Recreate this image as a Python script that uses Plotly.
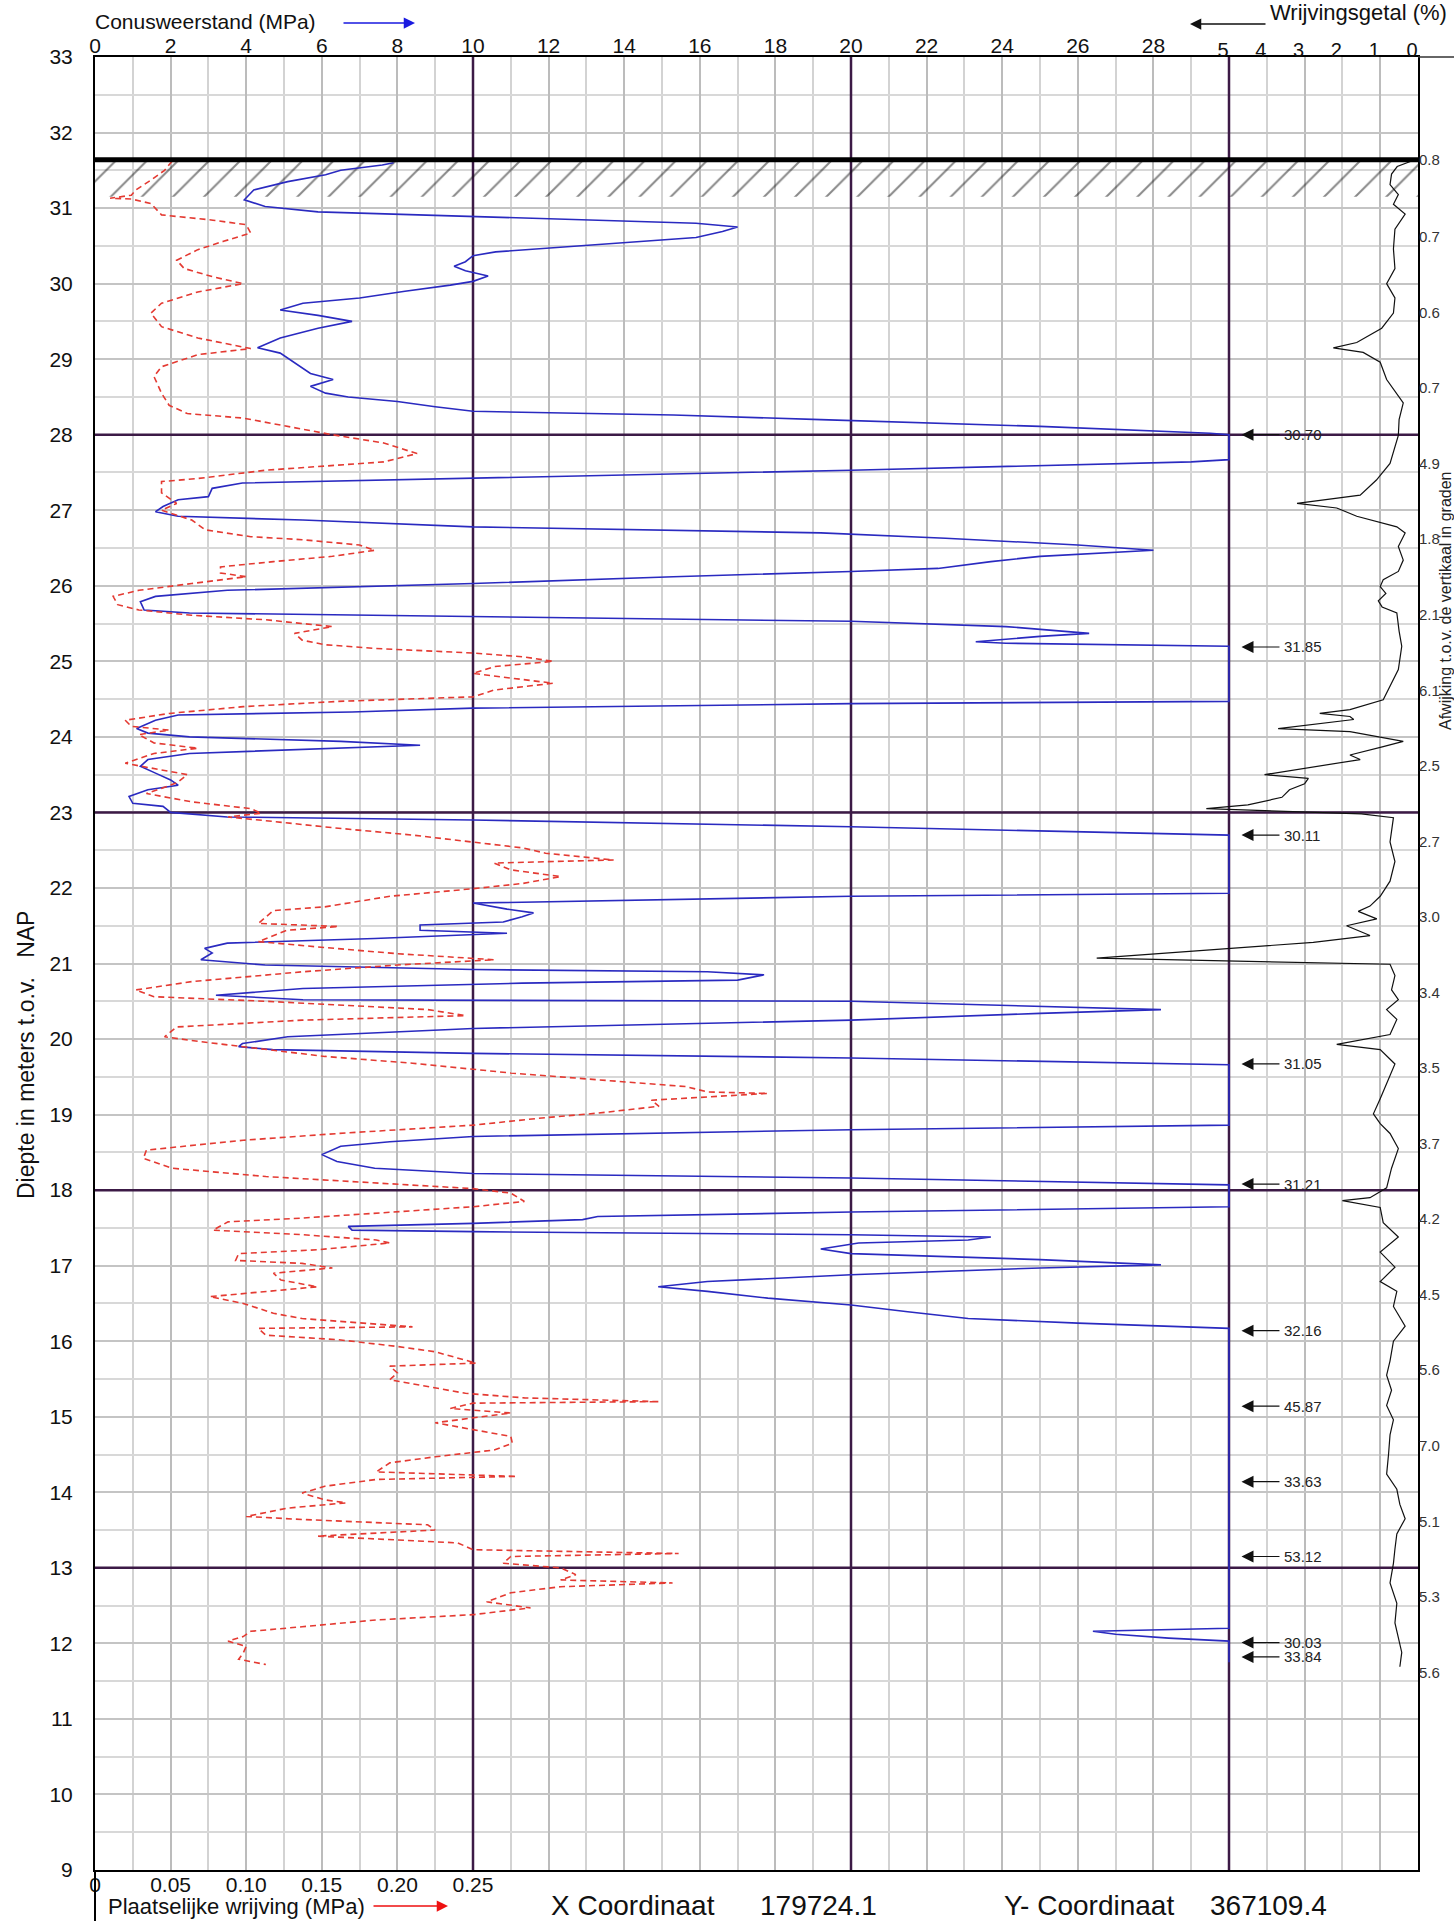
import plotly.graph_objects as go

# ---------------------------------------------------------------- data
GROUND_LEVEL = 31.64      # m NAP, top of the sounding
HATCH_BOTTOM = 31.15      # bottom of the hatched (pre-excavated) layer
X_MAX = 35.0              # main scale 0..35 (30..35 used by Wrijvingsgetal)
FS_PER_UNIT = 40.0        # 0.25 MPa friction <-> 10 MPa cone resistance
DEPTH_MIN, DEPTH_MAX = 9, 33

# Conusweerstand qc (MPa), clipped at 30 MPa
qc_depth = [
    31.60, 31.57, 31.50, 31.44, 31.35, 31.24, 31.11, 31.02, 30.95, 30.91,
    30.89, 30.84, 30.80, 30.75, 30.69, 30.61, 30.56, 30.49, 30.42, 30.37,
    30.29, 30.23, 30.17, 30.10, 30.03, 29.98, 29.90, 29.81, 29.74, 29.65,
    29.58, 29.50, 29.41, 29.28, 29.15, 29.08, 28.95, 28.81, 28.73, 28.64,
    28.55, 28.50, 28.44, 28.37, 28.31, 28.26, 28.20, 28.11, 28.02, 28.00,
    27.67, 27.64, 27.53, 27.42, 27.36, 27.29, 27.18, 27.14, 27.05, 26.98,
    26.92, 26.87, 26.78, 26.70, 26.63, 26.54, 26.47, 26.39, 26.32, 26.23,
    26.19, 26.12, 26.03, 25.94, 25.86, 25.79, 25.68, 25.64, 25.59, 25.53,
    25.46, 25.37, 25.33, 25.26, 25.24, 25.20, 24.47, 24.44, 24.38, 24.33,
    24.29, 24.22, 24.11, 24.05, 24.00, 23.94, 23.89, 23.85, 23.78, 23.70,
    23.61, 23.52, 23.43, 23.36, 23.30, 23.21, 23.12, 23.08, 23.00, 22.94,
    22.90, 22.81, 22.70, 21.93, 21.89, 21.80, 21.72, 21.67, 21.62, 21.55,
    21.51, 21.44, 21.40, 21.33, 21.27, 21.20, 21.14, 21.05, 20.98, 20.92,
    20.89, 20.85, 20.78, 20.74, 20.67, 20.58, 20.52, 20.50, 20.43, 20.39,
    20.34, 20.25, 20.14, 20.03, 19.94, 19.90, 19.86, 19.81, 19.75, 19.66,
    18.86, 18.80, 18.71, 18.64, 18.58, 18.47, 18.38, 18.29, 18.22, 18.16,
    18.07, 17.78, 17.71, 17.65, 17.61, 17.56, 17.52, 17.47, 17.45, 17.41,
    17.38, 17.34, 17.30, 17.22, 17.16, 17.08, 17.01, 16.97, 16.88, 16.79,
    16.72, 16.66, 16.57, 16.48, 16.39, 16.30, 16.24, 16.17, 12.20, 12.16,
    12.12, 12.07, 12.03, 11.75,
]
qc_mpa = [
    7.9, 7.6, 6.5, 6.1, 5.1, 4.2, 3.95, 4.5, 5.9, 8.4,
    10.0, 13.3, 15.9, 17.0, 16.6, 15.9, 14.5, 12.3, 10.6, 10.0,
    9.8, 9.5, 9.8, 10.4, 10.0, 9.4, 8.2, 7.0, 5.5, 4.9,
    5.9, 6.8, 5.9, 4.9, 4.3, 4.9, 5.3, 5.7, 6.3, 5.7,
    6.1, 6.7, 8.0, 9.0, 10.0, 15.3, 19.2, 25.0, 29.5, 30.0,
    30.0, 29.0, 20.0, 10.0, 3.9, 3.1, 3.0, 2.2, 1.8, 1.6,
    2.2, 5.5, 10.0, 19.2, 22.5, 26.0, 28.0, 25.0, 23.7, 22.3,
    20.0, 15.3, 10.0, 3.5, 1.6, 1.2, 1.3, 2.5, 10.0, 20.0,
    24.1, 26.3, 25.0, 23.3, 24.1, 30.0, 30.0, 20.0, 10.0, 6.8,
    2.2, 1.6, 1.1, 1.4, 2.5, 6.5, 8.6, 6.5, 2.5, 1.4,
    1.2, 1.6, 2.0, 2.2, 1.4, 0.9, 1.0, 1.8, 2.0, 3.5,
    10.0, 20.0, 30.0, 30.0, 20.0, 10.0, 10.9, 11.6, 11.3, 10.8,
    8.6, 8.6, 10.9, 7.4, 3.5, 2.9, 3.1, 2.8, 4.5, 10.0,
    16.2, 17.7, 17.0, 11.3, 5.5, 3.2, 5.5, 20.0, 25.0, 28.2,
    25.0, 20.0, 10.0, 5.1, 3.9, 3.8, 4.7, 10.0, 20.0, 30.0,
    30.0, 20.0, 10.0, 7.8, 6.5, 6.0, 6.4, 7.4, 10.0, 20.0,
    30.0, 30.0, 20.0, 13.3, 12.9, 10.0, 6.7, 6.8, 10.0, 20.0,
    23.7, 23.1, 20.2, 19.2, 20.0, 25.0, 28.2, 25.0, 20.0, 16.2,
    14.9, 16.2, 17.8, 20.0, 21.5, 23.1, 26.0, 30.0, 30.0, 26.4,
    27.0, 28.4, 30.0, 30.0,
]

# Plaatselijke wrijving fs (MPa)
fs_depth = [
    31.62, 31.50, 31.37, 31.24, 31.17, 31.13, 31.12, 31.06, 30.91, 30.84,
    30.78, 30.67, 30.56, 30.45, 30.31, 30.20, 30.09, 30.00, 29.89, 29.74,
    29.61, 29.43, 29.28, 29.14, 29.06, 28.90, 28.77, 28.55, 28.39, 28.28,
    28.22, 28.11, 28.00, 27.89, 27.75, 27.64, 27.53, 27.42, 27.38, 27.23,
    27.09, 27.00, 26.87, 26.74, 26.65, 26.61, 26.54, 26.47, 26.39, 26.32,
    26.25, 26.17, 26.12, 26.03, 25.94, 25.86, 25.75, 25.68, 25.61, 25.55,
    25.46, 25.37, 25.28, 25.22, 25.17, 25.11, 25.06, 25.00, 24.93, 24.84,
    24.78, 24.71, 24.62, 24.53, 24.47, 24.40, 24.31, 24.22, 24.14, 24.09,
    24.03, 23.92, 23.85, 23.78, 23.65, 23.58, 23.50, 23.39, 23.25, 23.14,
    23.05, 22.99, 22.94, 22.88, 22.79, 22.70, 22.61, 22.53, 22.46, 22.37,
    22.33, 22.24, 22.15, 22.06, 21.99, 21.89, 21.75, 21.70, 21.53, 21.49,
    21.44, 21.29, 21.22, 21.13, 21.05, 20.98, 20.89, 20.76, 20.65, 20.56,
    20.50, 20.43, 20.39, 20.31, 20.25, 20.16, 20.03, 19.97, 19.90, 19.77,
    19.68, 19.55, 19.46, 19.37, 19.30, 19.28, 19.19, 19.11, 19.02, 18.95,
    18.86, 18.75, 18.66, 18.53, 18.42, 18.29, 18.18, 18.09, 18.02, 17.96,
    17.85, 17.78, 17.71, 17.63, 17.58, 17.47, 17.41, 17.34, 17.30, 17.21,
    17.16, 17.07, 17.03, 16.97, 16.90, 16.81, 16.72, 16.66, 16.59, 16.50,
    16.37, 16.30, 16.19, 16.17, 16.08, 16.02, 15.93, 15.86, 15.75, 15.71,
    15.67, 15.58, 15.49, 15.40, 15.31, 15.25, 15.20, 15.18, 15.11, 15.05,
    14.92, 14.83, 14.74, 14.65, 14.56, 14.47, 14.39, 14.27, 14.21, 14.17,
    14.08, 13.99, 13.90, 13.86, 13.79, 13.68, 13.64, 13.57, 13.50, 13.42,
    13.37, 13.33, 13.24, 13.19, 13.15, 13.06, 13.00, 12.91, 12.84, 12.80,
    12.75, 12.67, 12.55, 12.47, 12.38, 12.31, 12.22, 12.16, 12.09, 12.03,
    11.96, 11.87, 11.79, 11.72,
]
fs_mpa = [
    0.051, 0.046, 0.037, 0.027, 0.024, 0.010, 0.024, 0.037, 0.044, 0.078,
    0.100, 0.103, 0.085, 0.068, 0.054, 0.059, 0.078, 0.098, 0.068, 0.044,
    0.037, 0.044, 0.068, 0.103, 0.068, 0.044, 0.039, 0.044, 0.049, 0.061,
    0.098, 0.127, 0.157, 0.191, 0.213, 0.191, 0.113, 0.068, 0.044, 0.044,
    0.054, 0.044, 0.064, 0.073, 0.103, 0.137, 0.175, 0.185, 0.157, 0.118,
    0.083, 0.083, 0.100, 0.064, 0.029, 0.012, 0.015, 0.029, 0.064, 0.113,
    0.157, 0.132, 0.137, 0.152, 0.186, 0.250, 0.283, 0.303, 0.264, 0.250,
    0.275, 0.303, 0.264, 0.250, 0.161, 0.098, 0.049, 0.020, 0.024, 0.049,
    0.029, 0.039, 0.068, 0.039, 0.020, 0.039, 0.061, 0.054, 0.034, 0.064,
    0.103, 0.110, 0.088, 0.118, 0.161, 0.210, 0.250, 0.283, 0.298, 0.343,
    0.264, 0.275, 0.308, 0.283, 0.250, 0.195, 0.152, 0.118, 0.108, 0.161,
    0.127, 0.108, 0.147, 0.200, 0.264, 0.200, 0.137, 0.064, 0.027, 0.039,
    0.113, 0.186, 0.220, 0.245, 0.137, 0.054, 0.046, 0.068, 0.098, 0.152,
    0.210, 0.275, 0.333, 0.391, 0.405, 0.445, 0.368, 0.373, 0.333, 0.293,
    0.250, 0.161, 0.098, 0.034, 0.032, 0.051, 0.113, 0.186, 0.250, 0.275,
    0.284, 0.250, 0.200, 0.137, 0.088, 0.078, 0.137, 0.186, 0.195, 0.147,
    0.095, 0.093, 0.137, 0.157, 0.118, 0.123, 0.147, 0.113, 0.076, 0.098,
    0.118, 0.137, 0.210, 0.108, 0.113, 0.161, 0.200, 0.225, 0.245, 0.252,
    0.195, 0.200, 0.195, 0.220, 0.245, 0.284, 0.373, 0.250, 0.235, 0.275,
    0.225, 0.250, 0.275, 0.276, 0.264, 0.225, 0.195, 0.186, 0.279, 0.186,
    0.152, 0.137, 0.152, 0.166, 0.127, 0.100, 0.137, 0.220, 0.225, 0.147,
    0.195, 0.240, 0.250, 0.386, 0.275, 0.270, 0.308, 0.318, 0.308, 0.382,
    0.308, 0.275, 0.259, 0.288, 0.250, 0.186, 0.137, 0.103, 0.098, 0.088,
    0.100, 0.098, 0.095, 0.113,
]

# Wrijvingsgetal Rf (%)
rf_depth = [
    31.64, 31.55, 31.45, 31.31, 31.18, 31.05, 30.92, 30.72, 30.46, 30.20,
    30.00, 29.81, 29.61, 29.41, 29.22, 29.15, 29.09, 28.96, 28.73, 28.60,
    28.42, 28.20, 27.99, 27.62, 27.40, 27.20, 27.09, 27.03, 26.92, 26.78,
    26.70, 26.52, 26.34, 26.19, 26.08, 25.99, 25.90, 25.80, 25.72, 25.64,
    25.40, 25.20, 24.89, 24.49, 24.36, 24.31, 24.27, 24.23, 24.11, 24.07,
    23.94, 23.87, 23.76, 23.70, 23.61, 23.50, 23.45, 23.38, 23.30, 23.20,
    23.10, 23.05, 22.98, 22.93, 22.61, 22.35, 22.09, 21.89, 21.76, 21.69,
    21.59, 21.50, 21.37, 21.28, 21.07, 20.99, 20.84, 20.65, 20.52, 20.39,
    20.26, 20.06, 19.93, 19.86, 19.67, 19.40, 19.21, 19.01, 18.88, 18.75,
    18.55, 18.29, 18.03, 17.90, 17.86, 17.77, 17.57, 17.38, 17.18, 16.98,
    16.79, 16.66, 16.46, 16.20, 16.00, 15.74, 15.55, 15.35, 15.15, 14.96,
    14.76, 14.50, 14.24, 14.04, 13.84, 13.65, 13.45, 13.25, 13.06, 12.80,
    12.53, 12.27, 12.08, 11.88, 11.69,
]
rf_pct = [
    0.08, 0.55, 0.70, 0.74, 0.52, 0.65, 0.34, 0.61, 0.65, 0.61,
    0.83, 0.61, 0.65, 0.96, 1.62, 2.24, 1.45, 1.00, 0.83, 0.65,
    0.39, 0.50, 0.52, 0.74, 1.10, 1.53, 3.20, 2.15, 1.62, 0.56,
    0.34, 0.52, 0.39, 0.52, 0.92, 1.00, 0.85, 1.05, 0.95, 0.56,
    0.50, 0.43, 0.52, 0.92, 1.80, 2.60, 1.80, 1.70, 3.70, 1.80,
    0.39, 0.92, 1.80, 1.53, 2.68, 4.06, 2.90, 3.00, 3.40, 3.60,
    4.50, 5.60, 1.50, 0.65, 0.74, 0.61, 0.74, 1.00, 1.27, 1.58,
    1.09, 1.89, 1.27, 2.77, 8.50, 0.74, 0.61, 0.70, 0.52, 0.83,
    0.56, 0.74, 2.15, 1.00, 0.61, 0.83, 1.00, 1.18, 1.00, 0.74,
    0.52, 0.70, 0.83, 1.27, 2.00, 1.00, 0.92, 0.52, 1.00, 0.61,
    1.00, 0.56, 0.65, 0.34, 0.65, 0.74, 0.83, 0.70, 0.83, 0.65,
    0.74, 0.78, 0.83, 0.56, 0.48, 0.34, 0.56, 0.61, 0.65, 0.74,
    0.56, 0.61, 0.52, 0.43, 0.48,
]

# qc values above 30 MPa (printed next to the clipped curve)
exceed_depth = [28.00, 25.19, 22.70, 19.67, 18.08, 16.14, 15.14, 14.14, 13.15, 12.01, 11.82]
exceed_label = ["30.70", "31.85", "30.11", "31.05", "31.21", "32.16",
                "45.87", "33.63", "53.12", "30.03", "33.84"]

# inclination (Afwijking t.o.v. de vertikaal, graden)
incl_depth = [31.64, 30.62, 29.62, 28.62, 27.62, 26.62, 25.62, 24.62, 23.62, 22.62,
              21.62, 20.62, 19.62, 18.62, 17.62, 16.62, 15.62, 14.62, 13.62, 12.62, 11.62]
incl_label = ["0.8", "0.7", "0.6", "0.7", "4.9", "1.8", "2.1", "6.1", "2.5", "2.7",
              "3.0", "3.4", "3.5", "3.7", "4.2", "4.5", "5.6", "7.0", "5.1", "5.3", "5.6"]

cone_ticks = list(range(0, 35, 2))
cone_labels = [str(v) if v <= 28 else "" for v in cone_ticks]
fs_ticks = [0, 0.05, 0.10, 0.15, 0.20, 0.25]
fs_labels = ["0", "0.05", "0.10", "0.15", "0.20", "0.25"]
rf_ticks = [5, 4, 3, 2, 1, 0]
ref_x = [10, 20, 30]
ref_depth = [28, 23, 18, 13]

X_COORD = "179724.1"
Y_COORD = "367109.4"

# ---------------------------------------------------------------- geometry
W, H = 1454, 1921
ML, MR, MT, MB = 95, 36, 57, 51
PW, PH = W - ML - MR, H - MT - MB


def pxx(px):
    return (px - ML) / PW


def pxy(py):
    return (H - MB - py) / PH


FONT = "Liberation Sans, Arial, Helvetica, sans-serif"
PURPLE = "#3c1a46"
BLUE = "#2a2ac0"
RED = "#e43a32"

fig = go.Figure()

# hatched layer below ground level
fig.add_trace(go.Scatter(
    x=[0, X_MAX, X_MAX, 0, 0],
    y=[GROUND_LEVEL, GROUND_LEVEL, HATCH_BOTTOM, HATCH_BOTTOM, GROUND_LEVEL],
    mode="none", fill="toself", fillcolor="rgba(0,0,0,0)",
    fillpattern=dict(shape="/", size=22, solidity=0.09, fgcolor="#111111",
                     bgcolor="rgba(0,0,0,0)"),
    hoverinfo="skip", showlegend=False, xaxis="x", yaxis="y"))

fig.add_trace(go.Scatter(
    x=rf_pct, y=rf_depth, mode="lines", xaxis="x3", yaxis="y",
    line=dict(color="#111111", width=1.2), hoverinfo="skip", showlegend=False))

fig.add_trace(go.Scatter(
    x=fs_mpa, y=fs_depth, mode="lines", xaxis="x2", yaxis="y",
    line=dict(color=RED, width=1.6, dash="6px,4px"), hoverinfo="skip",
    showlegend=False))

fig.add_trace(go.Scatter(
    x=qc_mpa, y=qc_depth, mode="lines", xaxis="x", yaxis="y",
    line=dict(color=BLUE, width=1.6), hoverinfo="skip", showlegend=False))

shapes = []
for xv in ref_x:
    shapes.append(dict(type="line", xref="x", yref="y", x0=xv, x1=xv,
                       y0=DEPTH_MIN, y1=DEPTH_MAX, layer="between",
                       line=dict(color=PURPLE, width=2.5)))
for dv in ref_depth:
    shapes.append(dict(type="line", xref="x", yref="y", x0=0, x1=X_MAX,
                       y0=dv, y1=dv, layer="between",
                       line=dict(color=PURPLE, width=2.5)))
shapes.append(dict(type="line", xref="x", yref="y", x0=0, x1=X_MAX,
                   y0=GROUND_LEVEL, y1=GROUND_LEVEL, layer="above",
                   line=dict(color="black", width=5)))
# frame extensions
shapes.append(dict(type="line", xref="paper", yref="paper", x0=0, x1=0,
                   y0=0, y1=pxy(H), line=dict(color="black", width=2)))
shapes.append(dict(type="line", xref="paper", yref="paper", x0=1, x1=pxx(W),
                   y0=1, y1=1, line=dict(color="#333333", width=1.5)))

ann = []
for d, t in zip(exceed_depth, exceed_label):
    ann.append(dict(xref="x", yref="y", x=30.33, y=d, text=t, showarrow=True,
                    axref="pixel", ayref="pixel", ax=38, ay=0, xanchor="left",
                    borderpad=4, arrowhead=2, arrowsize=2.0, arrowwidth=1.2,
                    arrowcolor="#111111", standoff=0,
                    font=dict(family=FONT, size=15, color="#222222")))
for d, t in zip(incl_depth, incl_label):
    ann.append(dict(xref="paper", yref="y", x=1, y=d, text=t, showarrow=False,
                    xanchor="left", yanchor="middle", xshift=-1,
                    font=dict(family=FONT, size=15, color="#333333")))

# header / footer texts
ann += [
    dict(xref="paper", yref="paper", x=pxx(93), y=pxy(21), text="Conusweerstand (MPa)",
         showarrow=False, xanchor="left", yanchor="middle",
         font=dict(family=FONT, size=21, color="#111111")),
    dict(xref="paper", yref="paper", x=pxx(415), y=pxy(23), text="", showarrow=True,
         axref="pixel", ayref="pixel", ax=-73, ay=0, arrowhead=2, arrowsize=1.5,
         arrowwidth=1.5, arrowcolor="#1a1ae0"),
    dict(xref="paper", yref="paper", x=pxx(1268), y=pxy(13), text="Wrijvingsgetal (%)",
         showarrow=False, xanchor="left", yanchor="middle",
         font=dict(family=FONT, size=22, color="#111111")),
    dict(xref="paper", yref="paper", x=pxx(1190), y=pxy(24), text="", showarrow=True,
         axref="pixel", ayref="pixel", ax=77, ay=0, arrowhead=2, arrowsize=1.5,
         arrowwidth=1.5, arrowcolor="#111111"),
    dict(xref="paper", yref="paper", x=pxx(106), y=pxy(1906),
         text="Plaatselijke wrijving (MPa)", showarrow=False, xanchor="left",
         yanchor="middle", font=dict(family=FONT, size=22, color="#111111")),
    dict(xref="paper", yref="paper", x=pxx(448), y=pxy(1906), text="", showarrow=True,
         axref="pixel", ayref="pixel", ax=-76, ay=0, arrowhead=2, arrowsize=1.5,
         arrowwidth=1.5, arrowcolor="#ee1111"),
    dict(xref="paper", yref="paper", x=pxx(549), y=pxy(1905), text="X Coordinaat",
         showarrow=False, xanchor="left", yanchor="middle",
         font=dict(family=FONT, size=28, color="#111111")),
    dict(xref="paper", yref="paper", x=pxx(758), y=pxy(1905), text=X_COORD,
         showarrow=False, xanchor="left", yanchor="middle",
         font=dict(family=FONT, size=28, color="#111111")),
    dict(xref="paper", yref="paper", x=pxx(1002), y=pxy(1905), text="Y- Coordinaat",
         showarrow=False, xanchor="left", yanchor="middle",
         font=dict(family=FONT, size=28, color="#111111")),
    dict(xref="paper", yref="paper", x=pxx(1208), y=pxy(1905), text=Y_COORD,
         showarrow=False, xanchor="left", yanchor="middle",
         font=dict(family=FONT, size=28, color="#111111")),
    dict(xref="paper", yref="paper", x=pxx(26), y=pxy(1055),
         text="Diepte in meters t.o.v.\u00a0\u00a0\u00a0NAP", showarrow=False,
         textangle=-90, xanchor="center", yanchor="middle",
         font=dict(family=FONT, size=23, color="#111111")),
    dict(xref="paper", yref="paper", x=pxx(1445), y=pxy(601),
         text="Afwijking t.o.v. de vertikaal in graden", showarrow=False,
         textangle=-90, xanchor="center", yanchor="middle",
         font=dict(family=FONT, size=16, color="#222222")),
]

fig.update_layout(
    width=W, height=H, autosize=False,
    margin=dict(l=ML, r=MR, t=MT, b=MB, pad=0),
    paper_bgcolor="white", plot_bgcolor="white",
    font=dict(family=FONT, color="#111111"),
    showlegend=False, hovermode=False,
    shapes=shapes, annotations=ann,
    xaxis=dict(
        domain=[0, 1], range=[0, X_MAX], side="top", anchor="y",
        tickmode="array", tickvals=cone_ticks, ticktext=cone_labels,
        ticks="", ticklabelstandoff=-6,
        tickfont=dict(family=FONT, size=21, color="#111111"),
        showgrid=True, gridcolor="#bcbcbc", gridwidth=2,
        minor=dict(dtick=1, tick0=0, showgrid=True, gridcolor="#d3d3d3",
                   gridwidth=1.5, ticks=""),
        showline=True, linecolor="black", linewidth=2, mirror=True,
        zeroline=False, fixedrange=True),
    xaxis2=dict(
        overlaying="x", anchor="y", side="bottom",
        range=[0, X_MAX / FS_PER_UNIT], tickmode="array",
        tickvals=fs_ticks, ticktext=fs_labels, ticks="",
        tickfont=dict(family=FONT, size=21, color="#111111"),
        showgrid=False, zeroline=False, showline=False, fixedrange=True),
    xaxis3=dict(
        overlaying="x", anchor="y", side="top", range=[X_MAX, 0],
        tickmode="array", tickvals=rf_ticks, ticktext=[str(v) for v in rf_ticks],
        ticks="", ticklabelshift=6, ticklabelstandoff=-5,
        tickfont=dict(family=FONT, size=20, color="#111111"),
        showgrid=False, zeroline=False, showline=False, fixedrange=True),
    yaxis=dict(
        domain=[0, 1], range=[DEPTH_MIN, DEPTH_MAX], anchor="x",
        tickmode="linear", tick0=DEPTH_MIN, dtick=1, ticks="",
        ticklabelstandoff=16,
        tickfont=dict(family=FONT, size=21, color="#111111"),
        showgrid=True, gridcolor="#c4c4c4", gridwidth=2,
        minor=dict(dtick=0.5, tick0=DEPTH_MIN, showgrid=True,
                   gridcolor="#d8d8d8", gridwidth=1.5, ticks=""),
        showline=True, linecolor="black", linewidth=2, mirror=True,
        zeroline=False, fixedrange=True),
)

fig.write_html("out.html", config={"displayModeBar": False},
               post_script="document.body.style.margin='0px';"
                           "document.body.style.overflow='hidden';")
